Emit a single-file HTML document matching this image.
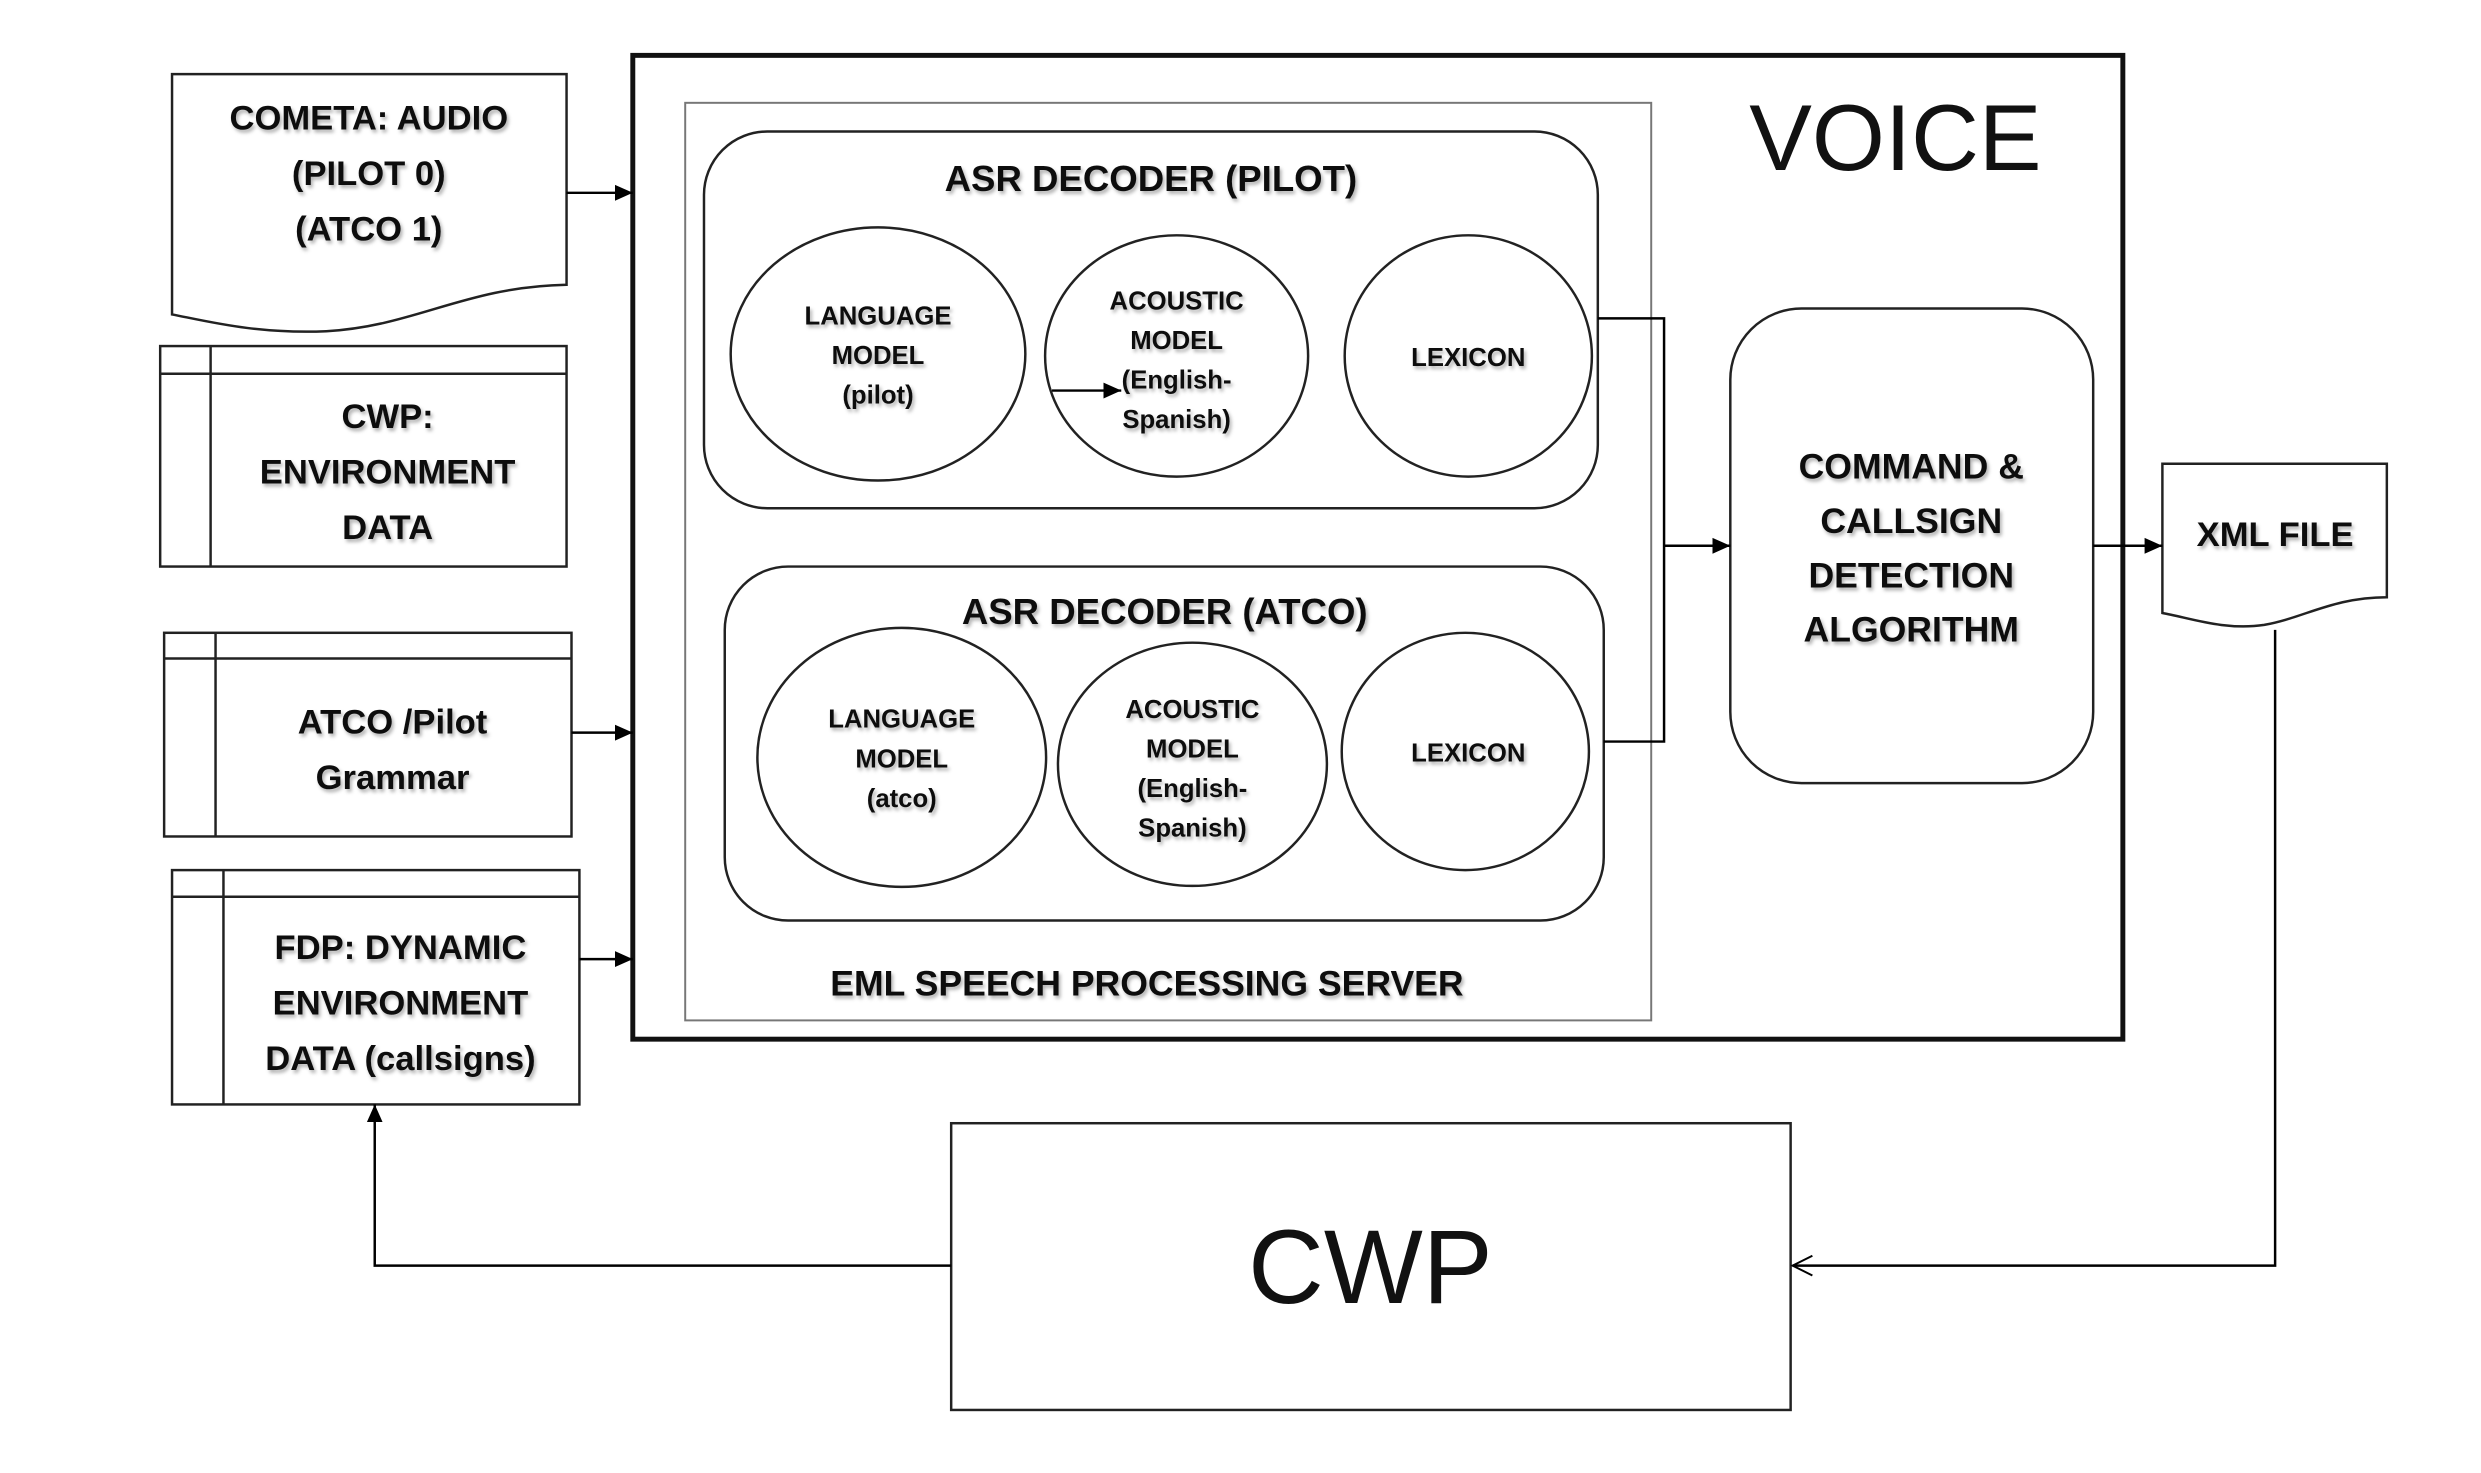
<!DOCTYPE html>
<html><head><meta charset="utf-8"><style>
html,body{margin:0;padding:0;background:#fff;}
svg{display:block;}
text{font-family:"Liberation Sans",Arial,sans-serif;fill:#111;text-anchor:middle;}
.b{font-weight:bold;filter:url(#sh);}
</style></head><body>
<svg width="2481" height="1473" viewBox="0 0 2481 1473" xmlns="http://www.w3.org/2000/svg">
<defs>
<filter id="sh" x="-10%" y="-30%" width="120%" height="160%"><feDropShadow dx="2" dy="3" stdDeviation="2" flood-color="#000" flood-opacity="0.3"/></filter>
<marker id="ar2" markerWidth="20" markerHeight="20" refX="18" refY="10" orient="auto" markerUnits="userSpaceOnUse" viewBox="0 0 20 20"><path d="M0,2 L18,10 L0,18 z" fill="#000"/></marker>
<marker id="op" markerWidth="24" markerHeight="24" refX="21" refY="12" orient="auto" markerUnits="userSpaceOnUse" viewBox="0 0 24 24"><path d="M1,2 L21,12 L1,22" fill="none" stroke="#000" stroke-width="2"/></marker>
</defs>
<g transform="scale(0.98875)">
<g fill="none" stroke="#222" stroke-width="2.5">
<path d="M174,75 L573,75 L573,288 C470,290 420,330 330,335 C260,338 210,325 174,318 Z"/>
<rect x="162" y="350" width="411" height="223"/><line x1="162" y1="378" x2="573" y2="378"/><line x1="213" y1="350" x2="213" y2="573"/>
<rect x="166" y="640" width="412" height="206"/><line x1="166" y1="666" x2="578" y2="666"/><line x1="218" y1="640" x2="218" y2="846"/>
<rect x="174" y="880" width="412" height="237"/><line x1="174" y1="907" x2="586" y2="907"/><line x1="226" y1="880" x2="226" y2="1117"/>
<rect x="640" y="56" width="1507" height="995" stroke="#111" stroke-width="5"/>
<rect x="693" y="104" width="977" height="928" stroke="#777" stroke-width="2"/>
<rect x="712" y="133" width="904" height="381" rx="64"/>
<ellipse cx="888" cy="358" rx="149" ry="128"/>
<ellipse cx="1190" cy="360" rx="133" ry="122"/>
<ellipse cx="1485" cy="360" rx="125" ry="122"/>
<rect x="733" y="573" width="889" height="358" rx="64"/>
<ellipse cx="912" cy="766" rx="146" ry="131"/>
<ellipse cx="1206" cy="773" rx="136" ry="123"/>
<ellipse cx="1482" cy="760" rx="125" ry="120"/>
<rect x="1750" y="312" width="367" height="480" rx="72"/>
<path d="M2187,469 L2414,469 L2414,604 C2360,604 2330,625 2290,632 C2250,638 2215,625 2187,620 Z"/>
<rect x="962" y="1136" width="849" height="290"/>
</g>
<g fill="none" stroke="#000" stroke-width="2.5">
<line x1="573" y1="195" x2="640" y2="195" marker-end="url(#ar2)"/>
<line x1="578" y1="741" x2="640" y2="741" marker-end="url(#ar2)"/>
<line x1="586" y1="970" x2="640" y2="970" marker-end="url(#ar2)"/>
<polyline points="1616,322 1683,322 1683,750 1622,750"/>
<line x1="1683" y1="552" x2="1750" y2="552" marker-end="url(#ar2)"/>
<line x1="2117" y1="552" x2="2187" y2="552" marker-end="url(#ar2)"/>
<polyline points="2301,637 2301,1280 1813,1280" marker-end="url(#op)"/>
<polyline points="962,1280 379,1280 379,1117" marker-end="url(#ar2)"/>
<line x1="1064" y1="395" x2="1134" y2="395" marker-end="url(#ar2)"/>
</g>
<g class="b" font-size="35">
<text x="373" y="131">COMETA: AUDIO</text>
<text x="373" y="187">(PILOT 0)</text>
<text x="373" y="243">(ATCO 1)</text>
<text x="392" y="433">CWP:</text>
<text x="392" y="489">ENVIRONMENT</text>
<text x="392" y="545">DATA</text>
<text x="397" y="742">ATCO /Pilot</text>
<text x="397" y="798">Grammar</text>
<text x="405" y="970">FDP: DYNAMIC</text>
<text x="405" y="1026">ENVIRONMENT</text>
<text x="405" y="1082">DATA (callsigns)</text>
<text x="1164" y="193" font-size="37">ASR DECODER (PILOT)</text>
<text x="1178" y="631" font-size="37">ASR DECODER (ATCO)</text>
<text x="1160" y="1007" font-size="36">EML SPEECH PROCESSING  SERVER</text>
<text x="1933" y="484" font-size="36">COMMAND &amp;</text>
<text x="1933" y="539" font-size="36">CALLSIGN</text>
<text x="1933" y="594" font-size="36">DETECTION</text>
<text x="1933" y="649" font-size="36">ALGORITHM</text>
<text x="2301" y="552" font-size="35">XML FILE</text>
</g>
<g class="b" font-size="26">
<text x="888" y="328">LANGUAGE</text><text x="888" y="368">MODEL</text><text x="888" y="408">(pilot)</text>
<text x="1190" y="313">ACOUSTIC</text><text x="1190" y="353">MODEL</text><text x="1190" y="393">(English-</text><text x="1190" y="433">Spanish)</text>
<text x="1485" y="370">LEXICON</text>
<text x="912" y="736">LANGUAGE</text><text x="912" y="776">MODEL</text><text x="912" y="816">(atco)</text>
<text x="1206" y="726">ACOUSTIC</text><text x="1206" y="766">MODEL</text><text x="1206" y="806">(English-</text><text x="1206" y="846">Spanish)</text>
<text x="1485" y="770">LEXICON</text>
</g>
<text x="1917" y="172" font-size="95">VOICE</text>
<text x="1386" y="1318" font-size="106">CWP</text>
</g>
</svg>
</body></html>
